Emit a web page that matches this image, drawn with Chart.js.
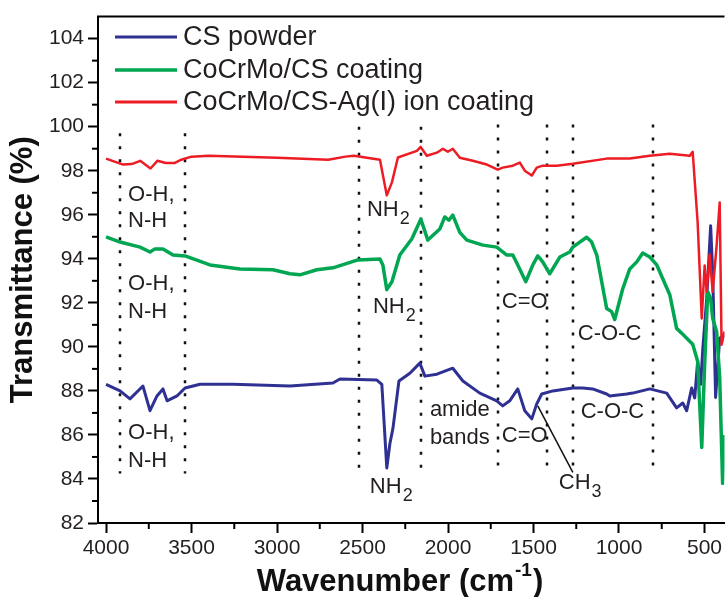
<!DOCTYPE html>
<html>
<head>
<meta charset="utf-8">
<script src="https://cdn.jsdelivr.net/npm/chart.js@4.4.1/dist/chart.umd.min.js"></script>
<style>
  html, body { margin: 0; padding: 0; background: #fff; }
  #wrap { width: 725px; height: 597px; position: relative; }
</style>
</head>
<body>
<div id="wrap"><canvas id="ftirChart"></canvas></div>
<script>
// FTIR spectra, wavenumber (cm-1) vs transmittance (%)
const csWave = [4000, 3918, 3860, 3784, 3743, 3702, 3667, 3643, 3585, 3538, 3450, 3258, 2924, 2673, 2632,
  2416, 2387, 2358, 2340, 2322, 2287, 2223, 2165, 2135, 2065, 1972, 1913, 1814, 1715, 1680, 1639, 1592,
  1551, 1510, 1481, 1452, 1387, 1270, 1212, 1154, 1072, 1054, 955, 920, 820, 721, 663, 627, 604, 575,
  557, 540, 522, 510, 487, 464, 452, 435, 411, 383];
const csPowder = [88.3, 88.0, 87.64, 88.22, 87.1, 87.77, 88.09, 87.55, 87.77, 88.13, 88.3, 88.3, 88.22, 88.36, 88.54,
  88.49, 88.3, 84.5, 85.6, 86.3, 88.45, 88.8, 89.26, 88.67, 88.76, 89.03, 88.45, 87.9, 87.55, 87.32, 87.55, 88.09,
  87.1, 86.73, 87.41, 87.86, 88.0, 88.13, 88.13, 88.09, 87.86, 87.77, 87.86, 87.9, 88.09, 87.9, 87.23, 87.45, 87.1, 88.13,
  87.68, 89.35, 88.3, 89.9, 92.2, 95.5, 93.4, 87.7, 90.4, 90.5];

const coatWave = [4000, 3918, 3801, 3743, 3714, 3667, 3608, 3538, 3392, 3217, 3024, 2924, 2866, 2767, 2673,
  2527, 2398, 2381, 2358, 2328, 2282, 2212, 2159, 2118, 2048, 2019, 1995, 1972, 1931, 1890, 1796, 1715,
  1656, 1621, 1592, 1545, 1504, 1475, 1446, 1405, 1346, 1288, 1270, 1189, 1160, 1130, 1072, 1043, 1025,
  978, 937, 896, 861, 820, 779, 703, 663, 627, 569, 540, 516, 499, 481, 464, 452, 429, 411, 394, 383];
const coating = [95.0, 94.76, 94.53, 94.31, 94.45, 94.45, 94.17, 94.13, 93.72, 93.54, 93.5, 93.32, 93.27, 93.5, 93.59,
  93.95, 93.99, 93.72, 92.6, 92.96, 94.17, 94.9, 95.8, 94.85, 95.35, 95.9, 95.75, 95.98, 95.2, 94.85, 94.62, 94.53,
  94.17, 94.17, 93.72, 92.96, 93.72, 94.13, 93.86, 93.32, 94.08, 94.31, 94.53, 94.98, 94.76, 94.17, 91.74, 91.6, 91.24,
  92.64, 93.54, 93.86, 94.26, 94.08, 93.72, 92.37, 90.84, 90.57, 90.12, 89.35, 85.43, 89.2, 92.5, 92.2, 91.3, 90.7, 88.6, 83.8, 86.0];

const agWave = [4000, 3900, 3850, 3800, 3740, 3700, 3650, 3600, 3560, 3500, 3400, 3000, 2700, 2600, 2550,
  2398, 2358, 2328, 2293, 2182, 2160, 2124, 2065, 2030, 2001, 1972, 1931, 1855, 1773, 1709, 1680, 1621,
  1580, 1551, 1510, 1481, 1446, 1364, 1270, 1072, 937, 820, 703, 586, 569, 540, 516, 499, 487, 470,
  452, 429, 411, 400, 383];
const agCoating = [98.55, 98.28, 98.3, 98.45, 98.1, 98.45, 98.35, 98.35, 98.5, 98.64, 98.68, 98.59, 98.5, 98.64, 98.68,
  98.5, 96.88, 97.47, 98.6, 98.9, 99.08, 98.68, 98.82, 99.0, 98.86, 99.0, 98.59, 98.45, 98.28, 98.05, 98.14, 98.23,
  98.37, 98.0, 97.78, 98.14, 98.23, 98.23, 98.32, 98.55, 98.55, 98.68, 98.77, 98.68, 98.86, 95.66, 91.29, 93.7, 92.5, 94.2,
  92.5, 94.6, 96.56, 90.1, 90.7];

const seriesNames = ['CS powder', 'CoCrMo/CS coating', 'CoCrMo/CS-Ag(I) ion coating'];
const seriesColors = ['#2e3192', '#00a651', '#ed1c24'];

const xTicks = [4000, 3500, 3000, 2500, 2000, 1500, 1000, 500];
const xMinor = [3750, 3250, 2750, 2250, 1750, 1250, 750];
const yTicks = [82, 84, 86, 88, 90, 92, 94, 96, 98, 100, 102, 104];
const yMinor = [83, 85, 87, 89, 91, 93, 95, 97, 99, 101, 103];

// dotted band markers
const bandWave = [3918, 3538, 2521, 2159, 1709, 1423, 1271, 803];
const bandTop = [99.7, 99.7, 100.0, 100.0, 100.1, 100.1, 100.1, 100.1];
const bandBottom = [84.25, 84.25, 84.5, 84.5, 84.6, 84.6, 84.6, 84.6];

// band labels: text, subscript, wavenumber (left edge), transmittance (middle)
const bandLabels = [
  ['O-H,', '', 3871, 96.92], ['N-H', '', 3871, 95.7],
  ['O-H,', '', 3871, 92.87], ['N-H', '', 3871, 91.6],
  ['O-H,', '', 3871, 86.1], ['N-H', '', 3871, 84.84],
  ['NH', '2', 2474, 96.2], ['NH', '2', 2439, 91.83], ['NH', '2', 2457, 83.62],
  ['amide', '', 2106, 87.14], ['bands', '', 2106, 85.88],
  ['C=O', '', 1685, 92.05], ['C=O', '', 1685, 85.97],
  ['C-O-C', '', 1241, 90.6], ['C-O-C', '', 1224, 87.05],
  ['CH', '3', 1352, 83.8]
];

const FONT = '"Liberation Sans", Arial, sans-serif';
const INK = '#231f20';

function toPoints(wave, vals) {
  return wave.map((w, i) => ({ x: w, y: vals[i] }));
}

const annotations = {
  id: 'annotations',
  beforeDatasetsDraw(chart) {
    const { ctx, scales: { x, y } } = chart;
    ctx.save();
    ctx.strokeStyle = '#111';
    ctx.lineWidth = 2.5;
    ctx.setLineDash([3, 10]);
    bandWave.forEach((w, i) => {
      const px = Math.round(x.getPixelForValue(w));
      ctx.beginPath();
      ctx.moveTo(px, y.getPixelForValue(bandTop[i]));
      ctx.lineTo(px, y.getPixelForValue(bandBottom[i]));
      ctx.stroke();
    });
    ctx.restore();
  },
  afterDraw(chart) {
    const { ctx, chartArea: area, scales: { x, y } } = chart;
    ctx.save();

    // top frame line
    ctx.strokeStyle = '#000';
    ctx.lineWidth = 2;
    ctx.beginPath();
    ctx.moveTo(area.left - 1, area.top);
    ctx.lineTo(area.right, area.top);
    ctx.stroke();

    // minor ticks
    ctx.lineWidth = 2;
    xMinor.forEach(v => {
      const px = x.getPixelForValue(v);
      ctx.beginPath();
      ctx.moveTo(px, area.bottom);
      ctx.lineTo(px, area.bottom + 6);
      ctx.stroke();
    });
    yMinor.forEach(v => {
      const py = y.getPixelForValue(v);
      ctx.beginPath();
      ctx.moveTo(area.left, py);
      ctx.lineTo(area.left - 6, py);
      ctx.stroke();
    });

    // band labels
    ctx.fillStyle = INK;
    ctx.textBaseline = 'middle';
    ctx.textAlign = 'left';
    bandLabels.forEach(([txt, sub, w, t]) => {
      const px = x.getPixelForValue(w);
      const py = y.getPixelForValue(t);
      ctx.font = '22px ' + FONT;
      ctx.fillText(txt, px, py);
      if (sub) {
        const tw = ctx.measureText(txt).width;
        ctx.font = '18px ' + FONT;
        ctx.fillText(sub, px + tw + 1, py + 9);
      }
    });

    // CH3 pointer line
    ctx.strokeStyle = '#111';
    ctx.lineWidth = 1.5;
    ctx.beginPath();
    ctx.moveTo(x.getPixelForValue(1475), y.getPixelForValue(87.32));
    ctx.lineTo(x.getPixelForValue(1270), y.getPixelForValue(84.3));
    ctx.stroke();

    // legend
    ctx.font = '27px ' + FONT;
    const legendY = [37, 70, 102];
    seriesNames.forEach((name, i) => {
      ctx.strokeStyle = seriesColors[i];
      ctx.lineWidth = i === 1 ? 3.5 : 3;
      ctx.beginPath();
      ctx.moveTo(115, legendY[i]);
      ctx.lineTo(177, legendY[i]);
      ctx.stroke();
      ctx.fillStyle = INK;
      ctx.fillText(name, 183, legendY[i] + 1);
    });

    // x axis title with superscript
    const main = 'Wavenumber (cm';
    ctx.font = 'bold 31px ' + FONT;
    const w1 = ctx.measureText(main).width;
    const w3 = ctx.measureText(')').width;
    ctx.font = 'bold 19px ' + FONT;
    const w2 = ctx.measureText('-1').width;
    const total = w1 + w2 + w3 + 2;
    let tx = 400 - total / 2;
    const ty = 582;
    ctx.fillStyle = '#111';
    ctx.font = 'bold 31px ' + FONT;
    ctx.fillText(main, tx, ty);
    ctx.font = 'bold 19px ' + FONT;
    ctx.fillText('-1', tx + w1 + 1, ty - 11);
    ctx.font = 'bold 31px ' + FONT;
    ctx.fillText(')', tx + w1 + w2 + 2, ty);

    ctx.restore();
  }
};

const ctx = document.getElementById('ftirChart').getContext('2d');
new Chart(ctx, {
  type: 'line',
  data: {
    datasets: [
      {
        label: seriesNames[0],
        data: toPoints(csWave, csPowder),
        borderColor: seriesColors[0],
        borderWidth: 3,
        order: 2,
      },
      {
        label: seriesNames[1],
        data: toPoints(coatWave, coating),
        borderColor: seriesColors[1],
        borderWidth: 3.5,
        order: 1,
      },
      {
        label: seriesNames[2],
        data: toPoints(agWave, agCoating),
        borderColor: seriesColors[2],
        borderWidth: 2.5,
        order: 0,
      },
    ],
  },
  options: {
    responsive: true,
    maintainAspectRatio: false,
    animation: false,
    layout: { padding: { top: 13, right: 0, left: 0, bottom: 0 } },
    elements: {
      point: { radius: 0 },
      line: { tension: 0, borderJoinStyle: 'round', fill: false },
    },
    plugins: {
      legend: { display: false },
      tooltip: { enabled: false },
    },
    scales: {
      x: {
        type: 'linear',
        reverse: true,
        min: 383,
        max: 4047,
        afterBuildTicks: axis => { axis.ticks = xTicks.map(v => ({ value: v })); },
        afterFit: axis => { axis.height = 74; },
        border: { display: true, color: '#000', width: 2 },
        grid: { drawOnChartArea: false, tickLength: 10, tickWidth: 2, tickColor: '#000' },
        ticks: {
          color: INK,
          font: { family: FONT, size: 21 },
          padding: 3,
          maxRotation: 0,
          autoSkip: false,
          callback: v => String(v),
        },
      },
      y: {
        min: 82,
        max: 105,
        afterBuildTicks: axis => { axis.ticks = yTicks.map(v => ({ value: v })); },
        afterFit: axis => { axis.width = 98; },
        border: { display: true, color: '#000', width: 2 },
        grid: { drawOnChartArea: false, tickLength: 10, tickWidth: 2, tickColor: '#000' },
        ticks: {
          color: INK,
          font: { family: FONT, size: 21 },
          padding: 4,
          autoSkip: false,
          callback: v => String(v),
        },
        title: {
          display: true,
          text: 'Transmittance (%)',
          color: '#111',
          font: { family: FONT, size: 31, weight: 'bold', lineHeight: 1 },
          padding: { top: 8, bottom: 0 },
        },
      },
    },
  },
  plugins: [annotations],
});
</script>
</body>
</html>
